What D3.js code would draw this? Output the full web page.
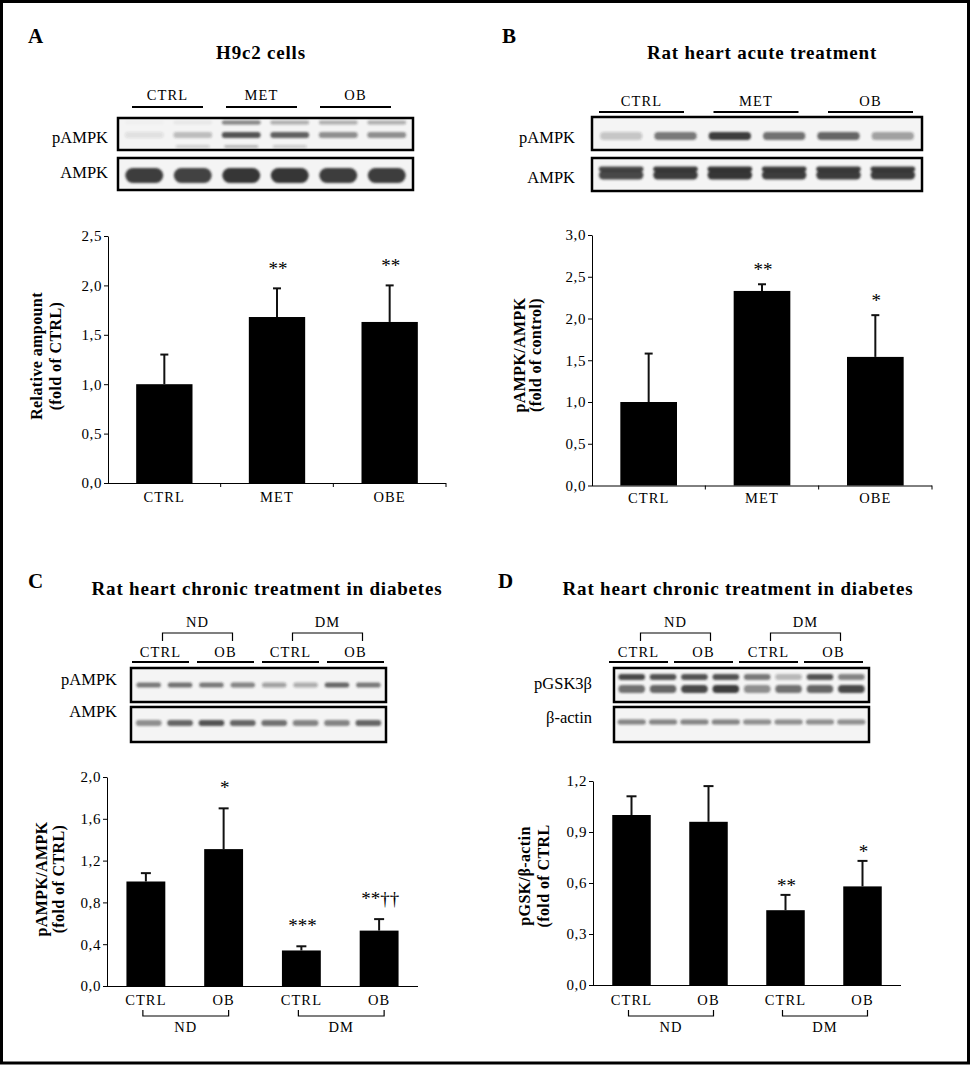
<!DOCTYPE html>
<html><head><meta charset="utf-8">
<script src="https://cdn.jsdelivr.net/npm/d3@7"></script>
<style>
html,body{margin:0;padding:0;background:#fff;}
svg{display:block;}
text{font-family:"Liberation Serif","Times New Roman",serif;fill:#000;}
</style></head><body>
<svg id="fig" width="971" height="1065"></svg>
<script>
// ================= DATA =================
// Panel A – H9c2 cells
const titleA = "H9c2 cells";
const blotGroupsA = ["CTRL","MET","OB"];
const catsA = ["CTRL","MET","OBE"];
const valsA = [1.00, 1.68, 1.63];
const sdA   = [0.30, 0.29, 0.37];
const starsA = ["", "**", "**"];
const ticksA = [0, 0.5, 1.0, 1.5, 2.0, 2.5];
const yLabelA = ["Relative ampount", "(fold of CTRL)"];
const lanesA_pAMPK_main  = [0.10, 0.28, 0.80, 0.72, 0.50, 0.50];
const lanesA_pAMPK_upper = [0.02, 0.05, 0.55, 0.35, 0.35, 0.35];
const lanesA_pAMPK_lower = [0.00, 0.18, 0.30, 0.20, 0.00, 0.00];
const lanesA_AMPK        = [0.90, 0.88, 0.95, 0.95, 0.90, 0.90];

// Panel B – Rat heart acute treatment
const titleB = "Rat heart acute treatment";
const blotGroupsB = ["CTRL","MET","OB"];
const catsB = ["CTRL","MET","OBE"];
const valsB = [1.00, 2.33, 1.54];
const sdB   = [0.58, 0.08, 0.50];
const starsB = ["", "**", "*"];
const ticksB = [0, 0.5, 1.0, 1.5, 2.0, 2.5, 3.0];
const yLabelB = ["pAMPK/AMPK", "(fold of control)"];
const lanesB_pAMPK = [0.22, 0.60, 0.90, 0.65, 0.70, 0.42];
const lanesB_AMPK  = [0.85, 0.90, 0.95, 0.90, 0.92, 0.90];

// Panel C – Rat heart chronic treatment in diabetes (pAMPK)
const titleC = "Rat heart chronic treatment in diabetes";
const blotGroupsCD = ["CTRL","OB","CTRL","OB"];
const diseaseCD = ["ND","ND","DM","DM"];
const catsCD = ["CTRL","OB","CTRL","OB"];
const valsC = [1.00, 1.31, 0.34, 0.53];
const sdC   = [0.08, 0.39, 0.04, 0.11];
const starsC = ["", "*", "***", "**††"];
const ticksC = [0, 0.4, 0.8, 1.2, 1.6, 2.0];
const yLabelC = ["pAMPK/AMPK", "(fold of CTRL)"];
const lanesC_pAMPK = [0.60, 0.65, 0.60, 0.55, 0.40, 0.35, 0.70, 0.60];
const lanesC_AMPK  = [0.50, 0.70, 0.80, 0.70, 0.65, 0.55, 0.55, 0.70];

// Panel D – Rat heart chronic treatment in diabetes (pGSK3β)
const titleD = "Rat heart chronic treatment in diabetes";
const valsD = [1.00, 0.96, 0.44, 0.58];
const sdD   = [0.11, 0.21, 0.09, 0.15];
const starsD = ["", "", "**", "*"];
const ticksD = [0, 0.3, 0.6, 0.9, 1.2];
const yLabelD = ["pGSK/β-actin", "(fold of CTRL"];
const lanesD_GSK_upper = [0.85, 0.80, 0.80, 0.80, 0.60, 0.30, 0.80, 0.55];
const lanesD_GSK_lower = [0.65, 0.70, 0.85, 0.90, 0.50, 0.65, 0.70, 0.85];
const lanesD_actin     = [0.55, 0.55, 0.55, 0.55, 0.50, 0.50, 0.50, 0.50];

// ================= DRAWING =================
const svg = d3.select("#fig");
const fmt = d3.formatLocale({decimal:",", thousands:".", grouping:[3], currency:["",""]}).format(".1f");

const defs = svg.append("defs");
defs.append("filter").attr("id","blur")
  .attr("x","-30%").attr("y","-150%").attr("width","160%").attr("height","400%")
  .append("feGaussianBlur").attr("stdDeviation", 1.3);

// outer frame
svg.append("rect").attr("x",1.5).attr("y",1.5).attr("width",967).attr("height",1061.5)
  .attr("fill","none").attr("stroke","#000").attr("stroke-width",3);

function text(x, y, s, o = {}) {
  const t = svg.append("text").attr("x", x).attr("y", y).text(s)
    .attr("font-size", o.size || 14)
    .attr("text-anchor", o.anchor || "start");
  if (o.bold) t.attr("font-weight", "bold");
  if (o.ls) t.attr("letter-spacing", o.ls);
  return t;
}

// panel letters + titles
text(28, 43, "A", {size:21, bold:true});
text(502, 43, "B", {size:21, bold:true});
text(28, 588, "C", {size:21, bold:true});
text(498, 588, "D", {size:21, bold:true});
text(261, 59, titleA, {size:19, bold:true, anchor:"middle", ls:0.8});
text(762, 59, titleB, {size:19, bold:true, anchor:"middle", ls:0.8});
text(267, 595, titleC, {size:19, bold:true, anchor:"middle", ls:0.8});
text(738, 595, titleD, {size:19, bold:true, anchor:"middle", ls:0.8});

// ---------- blot ----------
function blot(o) {
  const g = svg.append("g");
  const n = o.nLanes;
  const lane = d3.scaleBand().domain(d3.range(n)).range([o.x0 + 2, o.x1 - 2]).paddingInner(0).paddingOuter(0);
  // group lines
  const R = o.lineRange[1] - o.lineRange[0], m = o.groups.length;
  const p = (R - m * o.lineW) / (R - o.lineW);
  const gx = d3.scaleBand().domain(d3.range(m)).range(o.lineRange).paddingInner(p).paddingOuter(0);
  o.groups.forEach((lab, i) => {
    g.append("line").attr("x1", gx(i)).attr("x2", gx(i) + gx.bandwidth())
      .attr("y1", o.lineY).attr("y2", o.lineY).attr("stroke", "#000").attr("stroke-width", 2.2);
    g.append("text").attr("x", gx(i) + gx.bandwidth() / 2).attr("y", o.labelY)
      .attr("text-anchor", "middle").attr("font-size", 14.5).attr("letter-spacing", 1.1).text(lab);
  });
  // disease brackets over blots
  if (o.disease) {
    const names = Array.from(new Set(o.disease));
    names.forEach(nm => {
      const ids = d3.range(m).filter(i => o.disease[i] === nm);
      const a = gx(ids[0]) + gx.bandwidth() / 2 + 2;
      const b = gx(ids[ids.length - 1]) + gx.bandwidth() / 2 + 7;
      g.append("path").attr("d", `M${a},${o.brY + 8}V${o.brY}H${b}V${o.brY + 8}`)
        .attr("fill", "none").attr("stroke", "#000").attr("stroke-width", 1.2);
      g.append("text").attr("x", (a + b) / 2).attr("y", o.brY - 6).attr("text-anchor", "middle")
        .attr("font-size", 14.5).attr("letter-spacing", 1.1).text(nm);
    });
  }
  // rows
  o.rows.forEach(r => {
    g.append("rect").attr("x", o.x0).attr("y", r.y0).attr("width", o.x1 - o.x0).attr("height", r.y1 - r.y0)
      .attr("fill", "#f4f4f4");
    const bg = g.append("g").attr("filter", "url(#blur)");
    r.bands.forEach(b => {
      bg.selectAll(null).data(b.vals).join("rect")
        .attr("x", (v, i) => lane(i) + lane.bandwidth() * (1 - b.w) / 2)
        .attr("width", lane.bandwidth() * b.w)
        .attr("y", b.cy - b.h / 2).attr("height", b.h)
        .attr("rx", b.h / 2).attr("ry", b.h / 2)
        .attr("fill", "#2a2a2a").attr("fill-opacity", v => v);
    });
    g.append("rect").attr("x", o.x0).attr("y", r.y0).attr("width", o.x1 - o.x0).attr("height", r.y1 - r.y0)
      .attr("fill", "none").attr("stroke", "#000").attr("stroke-width", 2.5);
    g.append("text").attr("x", o.labX).attr("y", r.labY).attr("text-anchor", "end")
      .attr("font-size", 16.5).text(r.label);
  });
}

blot({x0:118, x1:413, nLanes:6, groups:blotGroupsA, lineRange:[132,391], lineW:71, lineY:107, labelY:100, labX:108,
  rows:[
    {label:"pAMPK", y0:118, y1:150, labY:143, bands:[
      {vals:lanesA_pAMPK_upper, cy:122.5, h:4, w:0.8},
      {vals:lanesA_pAMPK_main, cy:135, h:6, w:0.8},
      {vals:lanesA_pAMPK_lower, cy:146.5, h:3, w:0.7}]},
    {label:"AMPK", y0:158, y1:190, labY:178, bands:[
      {vals:lanesA_AMPK, cy:175.5, h:15, w:0.78}]}
  ]});

blot({x0:592, x1:922, nLanes:6, groups:blotGroupsB, lineRange:[599,913], lineW:85, lineY:112, labelY:106, labX:575,
  rows:[
    {label:"pAMPK", y0:117, y1:150, labY:143, bands:[
      {vals:lanesB_pAMPK, cy:136, h:8, w:0.78}]},
    {label:"AMPK", y0:158, y1:191, labY:183, bands:[
      {vals:lanesB_AMPK, cy:169, h:5, w:0.82},
      {vals:lanesB_AMPK, cy:175, h:9, w:0.82}]}
  ]});

blot({x0:131, x1:386, nLanes:8, groups:blotGroupsCD, disease:diseaseCD, brY:633, lineRange:[132,384], lineW:57, lineY:662, labelY:657, labX:117,
  rows:[
    {label:"pAMPK", y0:668, y1:702, labY:685, bands:[
      {vals:lanesC_pAMPK, cy:685, h:5, w:0.78}]},
    {label:"AMPK", y0:707, y1:742, labY:717, bands:[
      {vals:lanesC_AMPK, cy:723, h:6, w:0.82}]}
  ]});

blot({x0:614, x1:869, nLanes:8, groups:blotGroupsCD, disease:diseaseCD, brY:633, lineRange:[609,863], lineW:59, lineY:662, labelY:657, labX:592,
  rows:[
    {label:"pGSK3β", y0:668, y1:702, labY:689, bands:[
      {vals:lanesD_GSK_upper, cy:677, h:6, w:0.85},
      {vals:lanesD_GSK_lower, cy:689, h:8, w:0.85}]},
    {label:"β-actin", y0:707, y1:742, labY:723, bands:[
      {vals:lanesD_actin, cy:722, h:5, w:0.9}]}
  ]});

// ---------- bar charts ----------
function barChart(o) {
  const g = svg.append("g");
  const n = o.vals.length, idx = d3.range(n);
  const y = d3.scaleLinear().domain([0, o.max]).range([o.yBot, o.yTop]);
  const x = d3.scaleBand().domain(idx).range([o.xL, o.xR]).paddingInner(0.5).paddingOuter(0.25);
  const ag = g.append("g").attr("transform", `translate(${o.xL},0)`)
    .call(d3.axisLeft(y).tickValues(o.ticks).tickFormat(fmt).tickSize(4).tickSizeOuter(0));
  ag.select(".domain").attr("stroke", "#000");
  ag.selectAll(".tick line").attr("stroke", "#000");
  ag.selectAll("text").attr("font-family", '"Liberation Serif","Times New Roman",serif')
    .attr("font-size", 15).attr("letter-spacing", 0.6).attr("fill", "#000").attr("x", -6);
  // x axis
  g.append("line").attr("x1", o.xL).attr("x2", o.xR).attr("y1", y(0) + 0.5).attr("y2", y(0) + 0.5).attr("stroke", "#000");
  if (o.xTicks) {
    d3.range(1, n + 1).forEach(i => {
      const xx = o.xL + i * x.step();
      g.append("line").attr("x1", xx).attr("x2", xx).attr("y1", y(0)).attr("y2", y(0) + 4).attr("stroke", "#000");
    });
  }
  // bars
  g.selectAll("rect.bar").data(idx).join("rect").attr("class", "bar")
    .attr("x", i => x(i)).attr("width", x.bandwidth())
    .attr("y", i => y(o.vals[i])).attr("height", i => y(0) - y(o.vals[i])).attr("fill", "#000");
  // error bars
  idx.forEach(i => {
    const cx = x(i) + x.bandwidth() / 2, top = y(o.vals[i] + o.sd[i]);
    g.append("line").attr("x1", cx).attr("x2", cx).attr("y1", y(o.vals[i])).attr("y2", top)
      .attr("stroke", "#111").attr("stroke-width", 2);
    g.append("line").attr("x1", cx - o.capW / 2).attr("x2", cx + o.capW / 2).attr("y1", top).attr("y2", top)
      .attr("stroke", "#111").attr("stroke-width", 2);
    if (o.stars[i]) {
      g.append("text").attr("x", cx + 1).attr("y", top - o.starGap + 9).attr("text-anchor", "middle")
        .attr("font-size", 19).text(o.stars[i]);
    }
    g.append("text").attr("x", cx).attr("y", o.catY).attr("text-anchor", "middle")
      .attr("font-size", 14.5).attr("letter-spacing", 1.1).text(o.cats[i]);
  });
  // brackets under categories
  if (o.groups) {
    const names = Array.from(new Set(o.groups));
    names.forEach(nm => {
      const ids = idx.filter(i => o.groups[i] === nm);
      const a = x(ids[0]) + x.bandwidth() / 2 - 3;
      const b = x(ids[ids.length - 1]) + x.bandwidth() / 2 + 5;
      g.append("path").attr("d", `M${a},${o.brY - 6}V${o.brY}H${b}V${o.brY - 6}`)
        .attr("fill", "none").attr("stroke", "#000").attr("stroke-width", 1.2);
      g.append("text").attr("x", (a + b) / 2).attr("y", o.brY + 16).attr("text-anchor", "middle")
        .attr("font-size", 14.5).attr("letter-spacing", 1.1).text(nm);
    });
  }
  // y label
  o.yLabel.forEach((s, k) => {
    g.append("text").attr("transform", `translate(${o.ylx[k]},${o.yly}) rotate(-90)`)
      .attr("text-anchor", "middle").attr("font-weight", "bold").attr("font-size", 16)
      .attr("letter-spacing", 0.4).text(s);
  });
}

barChart({vals:valsA, sd:sdA, stars:starsA, cats:catsA, ticks:ticksA, max:2.5,
  xL:108, xR:446, yTop:236, yBot:483, xTicks:true, capW:8, starGap:22, catY:502,
  yLabel:yLabelA, ylx:[42, 61], yly:356});

barChart({vals:valsB, sd:sdB, stars:starsB, cats:catsB, ticks:ticksB, max:3.0,
  xL:592, xR:932, yTop:235, yBot:485.5, xTicks:true, capW:8, starGap:17, catY:503,
  yLabel:yLabelB, ylx:[525, 541], yly:355});

barChart({vals:valsC, sd:sdC, stars:starsC, cats:catsCD, groups:diseaseCD, ticks:ticksC, max:2.0,
  xL:107, xR:418, yTop:777, yBot:986, xTicks:false, capW:10, starGap:23, catY:1005, brY:1016,
  yLabel:yLabelC, ylx:[47, 64], yly:879});

barChart({vals:valsD, sd:sdD, stars:starsD, cats:catsCD, groups:diseaseCD, ticks:ticksD, max:1.2,
  xL:593, xR:901, yTop:781, yBot:985, xTicks:false, capW:10, starGap:12, catY:1005, brY:1016,
  yLabel:yLabelD, ylx:[530, 549], yly:876});
</script>
</body></html>
